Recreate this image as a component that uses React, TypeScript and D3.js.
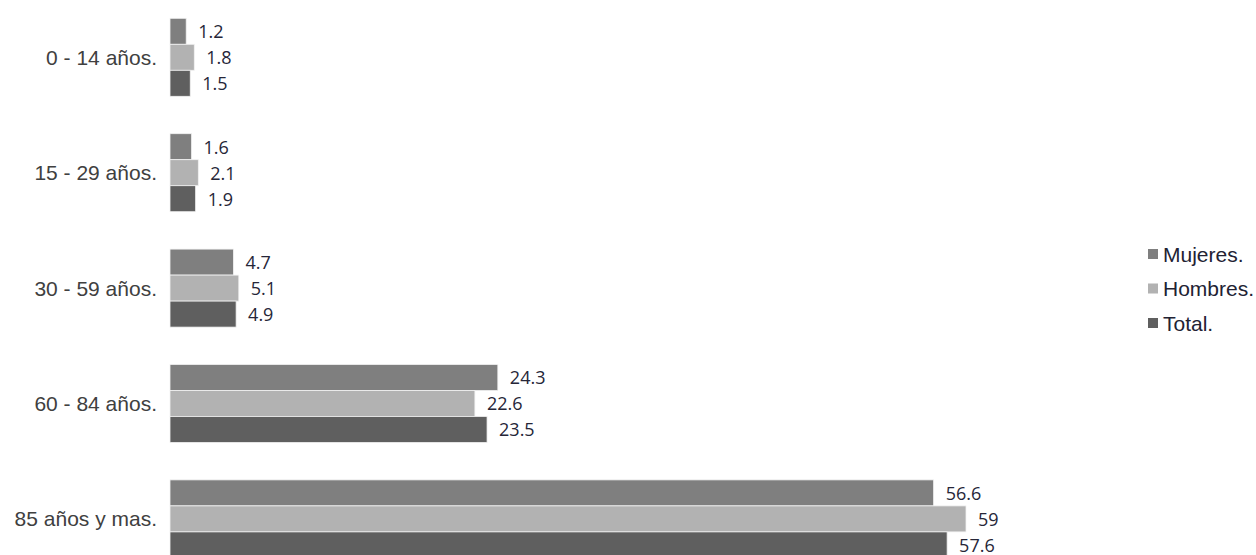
import React from "react";
import * as d3 from "d3";

const categories = ["0 - 14 años.", "15 - 29 años.", "30 - 59 años.", "60 - 84 años.", "85 años y mas."];
const seriesNames = ["Mujeres.", "Hombres.", "Total."];
const mujeres = [1.2, 1.6, 4.7, 24.3, 56.6];
const hombres = [1.8, 2.1, 5.1, 22.6, 59];
const total = [1.5, 1.9, 4.9, 23.5, 57.6];
const valueLabels = [
  ["1.2", "1.6", "4.7", "24.3", "56.6"],
  ["1.8", "2.1", "5.1", "22.6", "59"],
  ["1.5", "1.9", "4.9", "23.5", "57.6"],
];
const colors = ["#7f7f7f", "#b2b2b2", "#5f5f5f"];

const W = 1256;
const H = 555;

export default function App() {
  const seriesValues = [mujeres, hombres, total];
  const x = d3.scaleLinear().domain([0, 60]).range([170, 979.5]);
  const y = d3
    .scaleBand<string>()
    .domain(categories)
    .range([-0.4, 576.6])
    .paddingInner(0.324)
    .paddingOuter(0.162);
  const ys = d3.scaleBand<string>().domain(seriesNames).range([0, y.bandwidth()]).padding(0);

  return (
    <svg
      width={W}
      height={H}
      style={{ position: "absolute", left: 0, top: 0, background: "#fff" }}
    >
      {categories.map((c, i) => (
        <g key={c} transform={`translate(0,${y(c)})`}>
          <text
            x={157}
            y={y.bandwidth() / 2}
            textAnchor="end"
            dominantBaseline="central"
            fontFamily="'Liberation Sans', Arial, sans-serif"
            fontSize={21}
            fill="#404040"
          >
            {c}
          </text>
          {seriesNames.map((s, j) => {
            const v = seriesValues[j][i];
            return (
              <g key={s}>
                <rect
                  x={x(0)}
                  y={ys(s)}
                  width={x(v) - x(0)}
                  height={ys.bandwidth()}
                  fill={colors[j]}
                  stroke="#f2f2f2"
                  strokeWidth={0.8}
                />
                <text
                  x={x(v) + 12}
                  y={(ys(s) as number) + ys.bandwidth() / 2}
                  dominantBaseline="central"
                  fontFamily="'Open Sans', sans-serif"
                  fontSize={18}
                  fill="#262638"
                >
                  {valueLabels[j][i]}
                </text>
              </g>
            );
          })}
        </g>
      ))}
      {seriesNames.map((s, j) => (
        <g key={s} transform={`translate(1148,${254 + j * 34.5})`}>
          <rect x={0} y={-5} width={10} height={10} fill={colors[j]} />
          <text
            x={15}
            y={0}
            dominantBaseline="central"
            fontFamily="'Liberation Sans', Arial, sans-serif"
            fontSize={21}
            fill="#222233"
          >
            {s}
          </text>
        </g>
      ))}
    </svg>
  );
}
